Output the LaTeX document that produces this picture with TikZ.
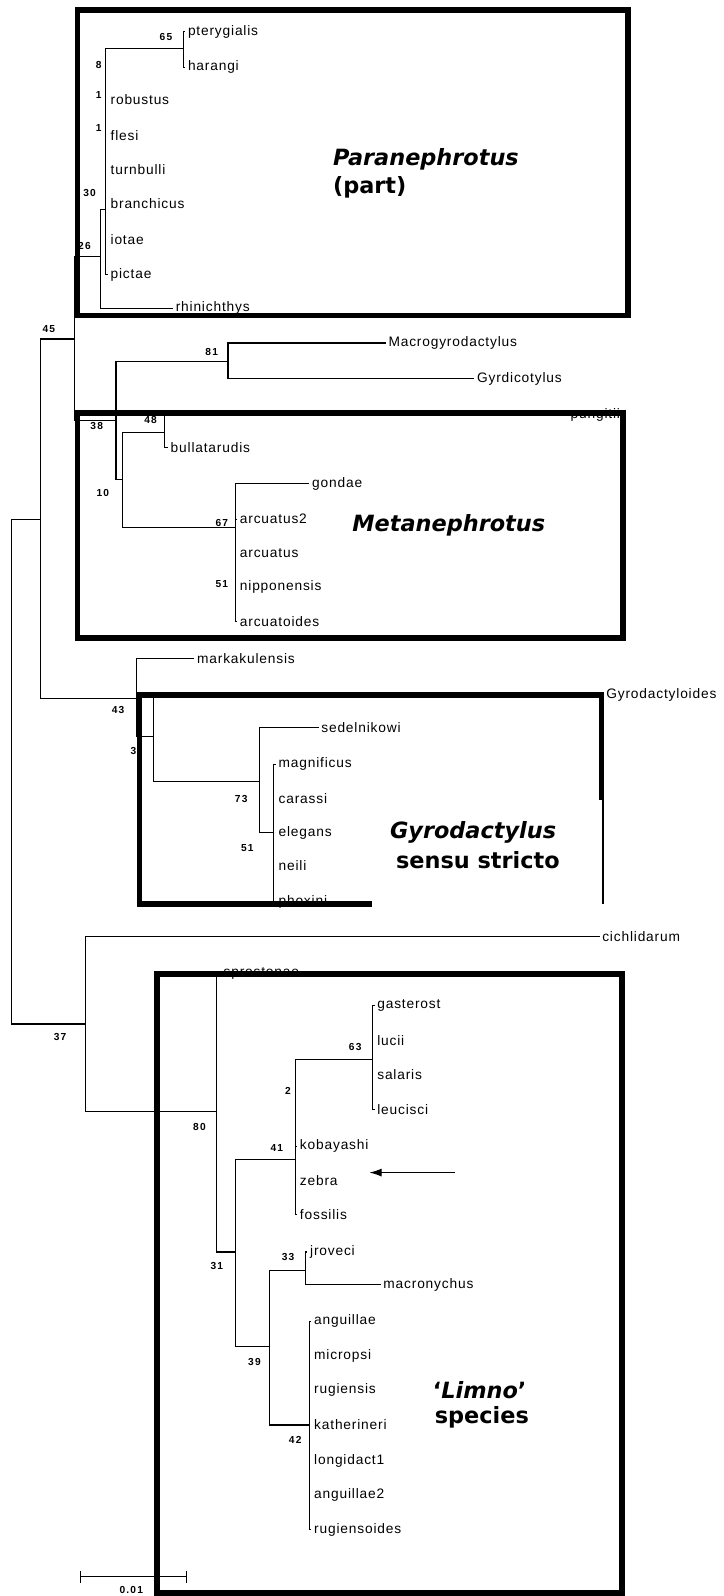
\documentclass[tikz,border=0pt]{standalone}
\usepackage{fontspec}
\setmainfont{Liberation Sans}
\newfontfamily\labfont[LetterSpace=6]{Liberation Sans}
\newfontfamily\numfont[LetterSpace=12]{Liberation Sans}
\newfontfamily\genfont{DejaVu Sans}
\usetikzlibrary{arrows.meta}
\tikzset{
  lab/.style={anchor=west, inner xsep=2.5pt, inner ysep=0pt, font={\labfont\fontsize{13.5}{15}\selectfont}},
  num/.style={inner sep=0pt, font={\numfont\bfseries\fontsize{10}{11}\selectfont}},
  br/.style={line width=1.1pt},
  boxline/.style={line width=5.5pt},
  genit/.style={anchor=west, inner sep=0pt, font={\genfont\bfseries\itshape\fontsize{22}{26}\selectfont}},
  genup/.style={anchor=west, inner sep=0pt, font={\genfont\bfseries\fontsize{22}{26}\selectfont}}
}
\begin{document}
\begin{tikzpicture}[x=1pt,y=-1pt]
\useasboundingbox (0,0) rectangle (711,1568);
\fill[white] (0,0) rectangle (711,1568);

% ---------- internal nodes ----------
\coordinate (root) at (11,758);
\coordinate (n45) at (40,510);
\coordinate (n45b) at (73,333);
\coordinate (n26) at (99,252);
\coordinate (n30) at (104,206);
\coordinate (n65) at (180,48);
\coordinate (n38) at (114,413);
\coordinate (n81) at (224,355);
\coordinate (n10) at (120,471);
\coordinate (n48) at (162,425);
\coordinate (n67) at (231,518);
\coordinate (n43) at (134,686);
\coordinate (n3) at (151,724);
\coordinate (n73) at (255,768);
\coordinate (n51) at (269,818);
\coordinate (n37) at (84,1006);
\coordinate (n80) at (213,1092);
\coordinate (n31) at (231,1230);
\coordinate (n41) at (290,1139);
\coordinate (n63) at (366,1041);
\coordinate (n39) at (265,1323);
\coordinate (n33) at (300,1248);
\coordinate (n42) at (304,1400);

% ---------- taxa ----------
\node[lab] (ptery) at (182,31) {pterygialis};
\node[lab] (haran) at (182,66) {harangi};
\node[lab] (robus) at (106,98) {robustus};
\node[lab] (flesi) at (106,133) {flesi};
\node[lab] (turnb) at (106,167) {turnbulli};
\node[lab] (branc) at (106,200) {branchicus};
\node[lab] (iotae) at (106,235) {iotae};
\node[lab] (picta) at (106,270) {pictae};
\node[lab] (rhini) at (170,303) {rhinichthys};
\node[lab] (macro) at (379,337) {Macrogyrodactylus};
\node[lab] (gyrdi) at (466,372) {Gyrdicotylus};
\node[lab] (pungi) at (558,407.5) {pungitii};
\node[lab] (bulli) at (165,440) {bullatarudis};
\node[lab] (gonda) at (304,475) {gondae};
\node[lab] (arcu2) at (233,510) {arcuatus2};
\node[lab] (arcua) at (233,543) {arcuatus};
\node[lab] (nippo) at (233,577) {nipponensis};
\node[lab] (arcuo) at (233,611) {arcuatoides};
\node[lab] (marka) at (191,647) {markakulensis};
\node[lab] (gyroi) at (593,683) {Gyrodactyloides};
\node[lab] (sedel) at (313,715) {sedelnikowi};
\node[lab] (magni) at (271,751) {magnificus};
\node[lab] (caras) at (271,785) {carassi};
\node[lab] (elega) at (271,818) {elegans};
\node[lab] (neili) at (271,850) {neili};
\node[lab] (phoxi) at (271,886) {phoxini};
\node[lab] (cichl) at (589,920) {cichlidarum};
\node[lab] (spros) at (217,956) {sprostonae};
\node[lab] (gaste) at (368,988) {gasterost};
\node[lab] (lucii) at (368,1022) {lucii};
\node[lab] (salar) at (368,1056) {salaris};
\node[lab] (leuci) at (368,1090) {leucisci};
\node[lab] (kobay) at (292,1126) {kobayashi};
\node[lab] (zebra) at (292,1160) {zebra};
\node[lab] (fossi) at (292,1193) {fossilis};
\node[lab] (jrove) at (302,1230) {jroveci};
\node[lab] (macrn) at (374,1262) {macronychus};
\node[lab] (angu1) at (306,1298) {anguillae};
\node[lab] (micro) at (306,1332) {micropsi};
\node[lab] (rugie) at (306,1366) {rugiensis};
\node[lab] (kathe) at (306,1400) {katherineri};
\node[lab] (longi) at (306,1435) {longidact1};
\node[lab] (angu2) at (306,1469) {anguillae2};
\node[lab] (rugio) at (306,1503) {rugiensoides};

% ---------- branches ----------
\begin{scope}[br]
\draw (root) |- (n45);
\draw (root) |- (n37);
\draw (n45) |- (n45b);
\draw (n45) |- (n43);
\draw (n45b) |- (n26);
\draw (n45b) |- (n38);
\draw (n26) |- (n30);
\draw (n26) |- (rhini.west);
\draw (n30) |- (n65);
\draw (n30) |- (picta.west);
\draw (n65) |- (ptery.west);
\draw (n65) |- (haran.west);
\draw (n38) |- (n81);
\draw (n38) |- (n10);
\draw (n81) |- (macro.west);
\draw (n81) |- (gyrdi.west);
\draw (n10) |- (n48);
\draw (n10) |- (n67);
\draw (n48) |- (pungi.west);
\draw (n48) |- (bulli.west);
\draw (n67) |- (gonda.west);
\draw (n67) |- (arcu2.west);
\draw (n67) |- (arcuo.west);
\draw (n43) |- (marka.west);
\draw (n43) |- (n3);
\draw (n3) |- (gyroi.west);
\draw (n3) |- (n73);
\draw (n73) |- (sedel.west);
\draw (n73) |- (n51);
\draw (n51) |- (magni.west);
\draw (n51) |- (phoxi.west);
\draw (n37) |- (cichl.west);
\draw (n37) |- (n80);
\draw (n80) |- (spros.west);
\draw (n80) |- (n31);
\draw (n31) |- (n41);
\draw (n31) |- (n39);
\draw (n41) |- (n63);
\draw (n41) |- (kobay.west);
\draw (n41) |- (fossi.west);
\draw (n63) |- (gaste.west);
\draw (n63) |- (leuci.west);
\draw (n39) |- (n33);
\draw (n39) |- (n42);
\draw (n33) |- (jrove.west);
\draw (n33) |- (macrn.west);
\draw (n42) |- (angu1.west);
\draw (n42) |- (rugio.west);
\end{scope}

% ---------- support values ----------
\node[num] (b65) at (163,36) {65};
\node[num] (b8) at (97,64) {8};
\node[num] (b1a) at (97,93) {1};
\node[num] (b1b) at (97,126) {1};
\node[num] (b30) at (88,190) {30};
\node[num] (b26) at (83,242) {26};
\node[num] (b45) at (48,323) {45};
\node[num] (b81) at (208,346) {81};
\node[num] (b38) at (95,419) {38};
\node[num] (b48) at (148,413) {48};
\node[num] (b10) at (101,484) {10};
\node[num] (b67) at (218,514) {67};
\node[num] (b51a) at (218,574) {51};
\node[num] (b43) at (116,698) {43};
\node[num] (b3) at (131,738) {3};
\node[num] (b73) at (237,785) {73};
\node[num] (b51b) at (243,833) {51};
\node[num] (b37) at (59,1019) {37};
\node[num] (b80) at (196,1107) {80};
\node[num] (b63) at (349,1029) {63};
\node[num] (b2) at (283,1072) {2};
\node[num] (b41) at (272,1128) {41};
\node[num] (b31) at (213,1244) {31};
\node[num] (b33) at (283,1235) {33};
\node[num] (b39) at (250,1338) {39};
\node[num] (b42) at (290,1415) {42};

% ---------- boxes ----------
\draw[boxline] (76,10) rectangle (617,310);
\draw[boxline] (76,406) rectangle (612,627);
\draw[boxline] (591,683) -- (137,683) -- (137,888) -- (365,888);
\draw[boxline] (591,680.25) -- (591,786);
\draw[line width=2pt] (592,786) -- (592,888);
\draw[boxline] (154,957) rectangle (611,1565);

% ---------- group names ----------
\node[genit] (tPara) at (327,157) {Paranephrotus};
\node[genup] (tPart) at (327,184) {(part)};
\node[genit] (tMeta) at (346,516) {Metanephrotus};
\node[genit] (tGyro) at (383,818) {Gyrodactylus};
\node[genup] (tSens) at (389,845) {sensu stricto};
\node[genup] (tLimn) at (425,1366) {‘\textit{Limno}’};
\node[genup] (tSpec) at (427,1392) {species};

% ---------- arrow ----------
\coordinate (arrS) at (447,1152);
\coordinate (arrE) at (363,1152);
\draw[br,-{Latex[length=12pt,width=8pt]}] (arrS) -- (arrE);

% ---------- scale bar ----------
\coordinate (sb1) at (79,1549);
\coordinate (sb2) at (183,1549);
\draw[br] (sb1) -- (sb2);
\draw[br] ([yshift=-6pt]sb1) -- ([yshift=6pt]sb1);
\draw[br] ([yshift=-6pt]sb2) -- ([yshift=6pt]sb2);
\node[num] (sbl) at (129,1562) {0.01};
\end{tikzpicture}
\end{document}
